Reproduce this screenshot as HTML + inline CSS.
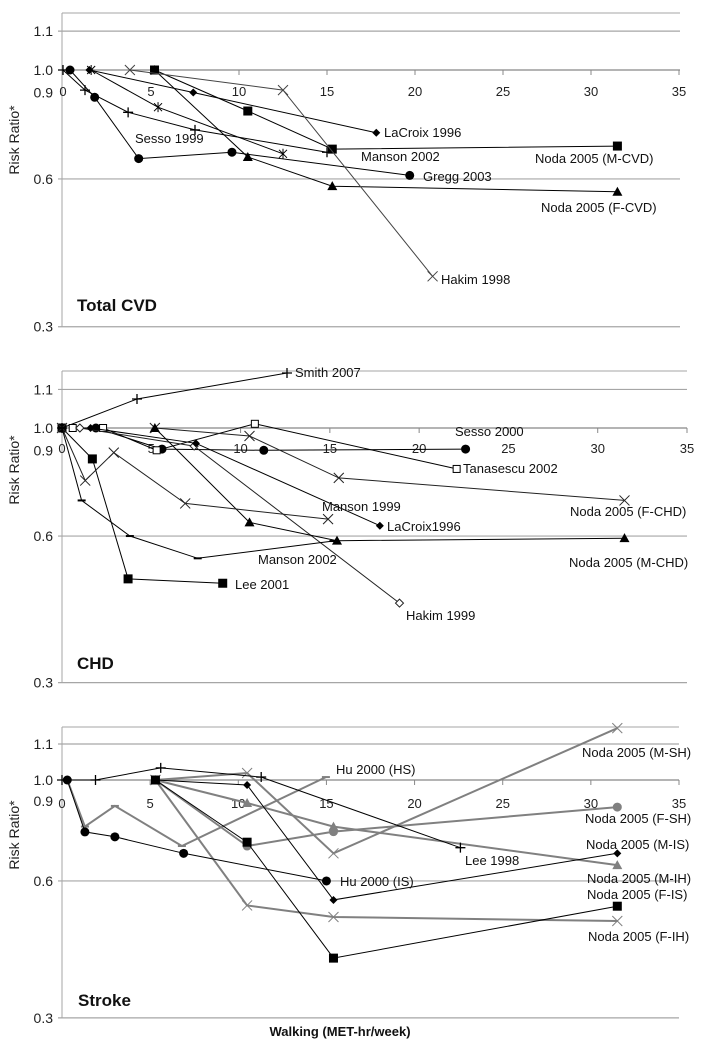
<!DOCTYPE html>
<html><head><meta charset="utf-8"><style>
html,body{margin:0;padding:0;background:#fff;}
svg{display:block;font-family:"Liberation Sans",sans-serif;}
</style></head><body>
<svg id="chart" width="714" height="1050" viewBox="0 0 714 1050" xmlns="http://www.w3.org/2000/svg"></svg>
<script>
// ---- tick data ----
const xTicks=[0,5,10,15,20,25,30,35];
const yTickVals=[1.2,1.0,0.9,0.6,0.3];
const yTickLabels=["1.1","1.0","0.9","0.6","0.3"];
const gridVals=[1.2,0.6,0.3];

// ---- Panel 1: Total CVD ----
const cvdGreggX=[0.4,1.8,4.3,9.6,19.7], cvdGreggY=[1.0,0.88,0.66,0.68,0.61];
const cvdMcvdX=[5.2,10.5,15.3,31.5], cvdMcvdY=[1.0,0.825,0.69,0.70];
const cvdFcvdX=[5.2,10.5,15.3,31.5], cvdFcvdY=[1.0,0.665,0.58,0.565];
const cvdMansonX=[0,1.25,3.7,7.5,15], cvdMansonY=[1.0,0.91,0.82,0.755,0.68];
const cvdSessoX=[1.6,5.4,12.5], cvdSessoY=[1.0,0.84,0.675];
const cvdLacroixX=[1.5,7.4,17.8], cvdLacroixY=[1.0,0.9,0.745];
const cvdHakimX=[3.8,12.5,21], cvdHakimY=[1.0,0.91,0.38];

// ---- Panel 2: CHD ----
const chdSmithX=[0,4.2,12.6], chdSmithY=[1.0,1.147,1.297];
const chdLeeX=[0,1.7,3.7,9.0], chdLeeY=[1.0,0.864,0.49,0.48];
const chdSessoX=[1.9,5.6,11.3,22.6], chdSessoY=[1.0,0.905,0.90,0.905];
const chdTanX=[0.6,2.3,5.3,10.8,22.1], chdTanY=[1.0,1.0,0.9,1.02,0.824];
const chdHakimX=[1,7.4,18.9], chdHakimY=[1.0,0.918,0.437];
const chdLacroixX=[1.6,7.5,17.8], chdLacroixY=[1.0,0.93,0.63];
const chdFchdX=[5.2,10.5,15.5,31.5], chdFchdY=[1.0,0.963,0.79,0.71];
const chdMchdX=[5.2,10.5,15.4,31.5], chdMchdY=[1.0,0.64,0.587,0.594];
const chdXsX=[0,1.3,2.9,6.9,14.9], chdXsY=[1.0,0.78,0.89,0.70,0.65];
const chdDashX=[0,1.1,3.8,7.6,15.2], chdDashY=[1.0,0.71,0.60,0.54,0.586];

// ---- Panel 3: Stroke ----
const stHuIsX=[0.3,1.3,3,6.9,15], stHuIsY=[1.0,0.769,0.75,0.69,0.60];
const stLeeX=[0,1.9,5.6,11.3,22.6], stLeeY=[1.0,1.0,1.063,1.015,0.71];
const stHuHsX=[0.3,1.3,3,6.8,14.97], stHuHsY=[1.0,0.79,0.877,0.716,1.015];
const stMisX=[5.3,10.5,15.4,31.5], stMisY=[1.0,0.975,0.545,0.69];
const stFisX=[5.3,10.5,15.4,31.5], stFisY=[1.0,0.73,0.406,0.528];
const stMshX=[5.3,10.5,15.4,31.5], stMshY=[1.0,1.036,0.69,1.30];
const stFshX=[5.3,10.5,15.4,31.5], stFshY=[1.0,0.716,0.77,0.872];
const stMihX=[5.3,10.5,15.4,31.5], stMihY=[1.0,0.89,0.79,0.65];
const stFihX=[5.3,10.5,15.4,31.5], stFihY=[1.0,0.53,0.50,0.49];

const NS="http://www.w3.org/2000/svg";
const svg=document.getElementById('chart');
function mk(tag,attrs,parent){const e=document.createElementNS(NS,tag);for(const k in attrs)e.setAttribute(k,attrs[k]);(parent||svg).appendChild(e);return e;}

const panels=[
 {name:'total-cvd',title:'Total CVD',left:62,right:680,top:13,y1:70,k:491,xa:63,xb:679,numY:96,titleX:77,titleY:311,yLab:140,
  series:[
   ['gregg-2003',cvdGreggX,cvdGreggY,'circle','#000',1],
   ['noda-2005-m-cvd',cvdMcvdX,cvdMcvdY,'square','#000',1],
   ['noda-2005-f-cvd',cvdFcvdX,cvdFcvdY,'triangle','#000',1],
   ['manson-2002',cvdMansonX,cvdMansonY,'plus','#000',1],
   ['sesso-1999',cvdSessoX,cvdSessoY,'star','#000',1],
   ['lacroix-1996',cvdLacroixX,cvdLacroixY,'diamond','#000',1],
   ['hakim-1998',cvdHakimX,cvdHakimY,'x','#444',1]],
  labels:[['LaCroix 1996',384,137],['Sesso 1999',135,143],['Manson 2002',361,161],['Noda 2005 (M-CVD)',535,163],['Gregg 2003',423,181],['Noda 2005 (F-CVD)',541,212],['Hakim 1998',441,284]]},
 {name:'chd',title:'CHD',left:62,right:687,top:371,y1:428,k:487,xa:62,xb:687,numY:453,titleX:77,titleY:669,yLab:470,
  series:[
   ['smith-2007',chdSmithX,chdSmithY,'plus','#000',1],
   ['lee-2001',chdLeeX,chdLeeY,'square','#000',1],
   ['sesso-2000',chdSessoX,chdSessoY,'circle','#000',1],
   ['tanasescu-2002',chdTanX,chdTanY,'osquare','#000',1],
   ['hakim-1999',chdHakimX,chdHakimY,'odiamond','#222',1],
   ['lacroix-1996',chdLacroixX,chdLacroixY,'diamond','#000',1],
   ['noda-2005-f-chd',chdFchdX,chdFchdY,'x','#222',1],
   ['noda-2005-m-chd',chdMchdX,chdMchdY,'triangle','#000',1],
   ['manson-1999',chdXsX,chdXsY,'x','#222',1],
   ['manson-2002',chdDashX,chdDashY,'dash','#000',1]],
  labels:[['Smith 2007',295,377],['Sesso 2000',455,436],['Tanasescu 2002',463,473],['Manson 1999',322,511],['Noda 2005 (F-CHD)',570,516],['LaCroix1996',387,531],['Manson 2002',258,564],['Noda 2005 (M-CHD)',569,567],['Lee 2001',235,589],['Hakim 1999',406,620]]},
 {name:'stroke',title:'Stroke',left:62,right:679,top:727,y1:780,k:455,xa:62,xb:679,numY:808,titleX:78,titleY:1006,yLab:835,
  series:[
   ['hu-2000-hs',stHuHsX,stHuHsY,'dash','#808080',2],
   ['noda-2005-m-sh',stMshX,stMshY,'x','#808080',2],
   ['noda-2005-f-sh',stFshX,stFshY,'circle','#808080',2],
   ['noda-2005-m-ih',stMihX,stMihY,'triangle','#808080',2],
   ['noda-2005-f-ih',stFihX,stFihY,'x','#808080',2],
   ['hu-2000-is',stHuIsX,stHuIsY,'circle','#000',1],
   ['lee-1998',stLeeX,stLeeY,'plus','#000',1],
   ['noda-2005-m-is',stMisX,stMisY,'diamond','#000',1],
   ['noda-2005-f-is',stFisX,stFisY,'square','#000',1]],
  labels:[['Hu 2000 (HS)',336,774],['Noda 2005 (M-SH)',582,757],['Noda 2005 (F-SH)',585,823],['Noda 2005 (M-IS)',586,849],['Lee 1998',465,865],['Hu 2000 (IS)',340,886],['Noda 2005 (M-IH)',587,883],['Noda 2005 (F-IS)',587,899],['Noda 2005 (F-IH)',588,941]]}
];

function marker(g,type,cx,cy,col){
  let e;
  if(type==='circle'){e=mk('circle',{cx:cx,cy:cy,r:4.5,fill:col},g);}
  else if(type==='square'){e=mk('rect',{x:cx-4.5,y:cy-4.5,width:9,height:9,fill:col},g);}
  else if(type==='osquare'){e=mk('rect',{x:cx-3.5,y:cy-3.5,width:7,height:7,fill:'#fff',stroke:col,'stroke-width':1},g);}
  else if(type==='triangle'){e=mk('polygon',{points:`${cx},${cy-5} ${cx+5},${cy+4} ${cx-5},${cy+4}`,fill:col},g);}
  else if(type==='diamond'){e=mk('polygon',{points:`${cx},${cy-4} ${cx+4},${cy} ${cx},${cy+4} ${cx-4},${cy}`,fill:col},g);}
  else if(type==='odiamond'){e=mk('polygon',{points:`${cx},${cy-4} ${cx+4},${cy} ${cx},${cy+4} ${cx-4},${cy}`,fill:'#fff',stroke:col,'stroke-width':1},g);}
  else if(type==='x'){e=mk('path',{d:`M${cx-5} ${cy-5}L${cx+5} ${cy+5}M${cx-5} ${cy+5}L${cx+5} ${cy-5}`,stroke:col,'stroke-width':1,fill:'none'},g);}
  else if(type==='plus'){e=mk('path',{d:`M${cx-5} ${cy}L${cx+5} ${cy}M${cx} ${cy-5}L${cx} ${cy+5}`,stroke:col,'stroke-width':1.3,fill:'none'},g);}
  else if(type==='star'){e=mk('path',{d:`M${cx-4} ${cy-4}L${cx+4} ${cy+4}M${cx-4} ${cy+4}L${cx+4} ${cy-4}M${cx} ${cy-5}L${cx} ${cy+5}`,stroke:col,'stroke-width':1,fill:'none'},g);}
  else {e=mk('path',{d:`M${cx-4} ${cy}L${cx+4} ${cy}`,stroke:col,'stroke-width':2,fill:'none'},g);}
  
  
}

panels.forEach(p=>{
  const xs=v=>p.xa+(p.xb-p.xa)*v/35;
  const ys=v=>p.y1-p.k*Math.log10(v);
  const g=mk('g',{});
  
  
  // top border and left axis
  const tb=mk('line',{x1:p.left,y1:p.top,x2:p.right,y2:p.top,stroke:'#a6a6a6','stroke-width':1},g);
  
  
  const la=mk('line',{x1:p.left,y1:p.top,x2:p.left,y2:ys(0.3),stroke:'#a6a6a6','stroke-width':1},g);
  
  
  gridVals.forEach(v=>{
    const l=mk('line',{x1:p.left-4,y1:ys(v),x2:p.right,y2:ys(v),stroke:'#a6a6a6','stroke-width':1.2},g);
    
    
  });
  yTickVals.forEach((v,i)=>{
    const t=mk('text',{x:p.left-9,y:ys(v)+5,'text-anchor':'end','font-size':14,fill:'#222'},g);
    t.textContent=yTickLabels[i];
    
    
  });
  const yl=mk('text',{x:0,y:0,'font-size':14,fill:'#222','text-anchor':'middle',transform:`translate(19,${p.yLab}) rotate(-90)`},g);
  yl.textContent='Risk Ratio*';
  
  
  // x axis at 1.0
  const xa=mk('line',{x1:p.left,y1:p.y1,x2:p.right,y2:p.y1,stroke:'#888','stroke-width':1.2},g);
  
  
  xTicks.forEach(v=>{
    const tk=mk('line',{x1:xs(v),y1:p.y1,x2:xs(v),y2:p.y1+5,stroke:'#888','stroke-width':1},g);
    
    
    const t=mk('text',{x:xs(v),y:p.numY,'text-anchor':'middle','font-size':13,fill:'#222'},g);
    t.textContent=String(v);
    
    
  });
  p.series.forEach(s=>{
    const [nm,X,Y,mt,col,w]=s;
    const sg=mk('g',{},g);
    
    
    const pts=X.map((x,i)=>xs(x).toFixed(1)+','+ys(Y[i]).toFixed(1)).join(' ');
    const pl=mk('polyline',{points:pts,fill:'none',stroke:col,'stroke-width':w},sg);
    
    
    X.forEach((x,i)=>marker(sg,mt,xs(x),ys(Y[i]),col));
  });
  p.labels.forEach(l=>{
    const t=mk('text',{x:l[1],y:l[2],'font-size':13,fill:'#111'},g);
    t.textContent=l[0];
    
    
  });
  const tt=mk('text',{x:p.titleX,y:p.titleY,'font-size':17,'font-weight':'bold',fill:'#111'},g);
  tt.textContent=p.title;
  
  
});
const xt=mk('text',{x:340,y:1036,'text-anchor':'middle','font-size':13,'font-weight':'bold',fill:'#111'});
xt.textContent='Walking (MET-hr/week)';


</script>
</body></html>
